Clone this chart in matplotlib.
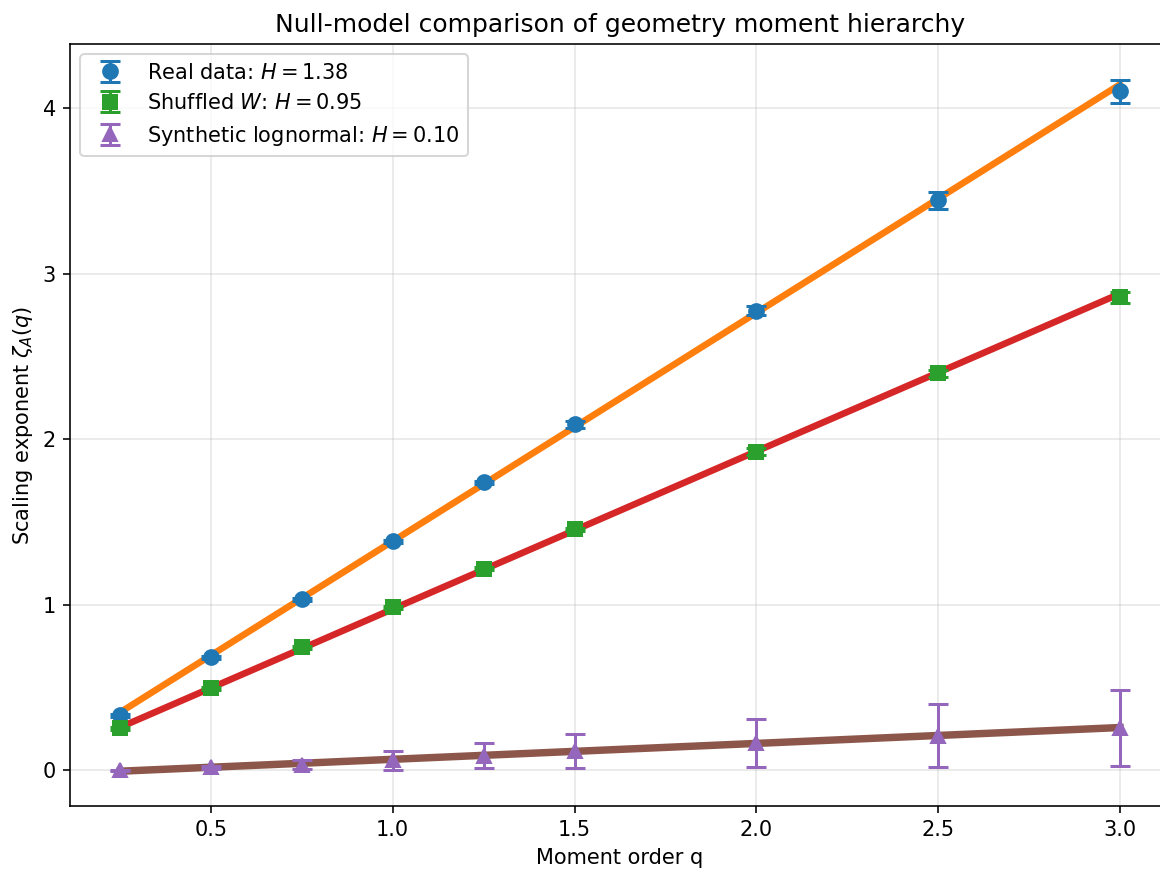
import numpy as np
import matplotlib
matplotlib.use("Agg")
import matplotlib.pyplot as plt

q = [0.25, 0.5, 0.75, 1.0, 1.25, 1.5, 2.0, 2.5, 3.0]

# real data
zeta_real = [0.332, 0.683, 1.033, 1.384, 1.740, 2.091, 2.779, 3.444, 4.103]
err_real = [0.01, 0.01, 0.01, 0.01, 0.01, 0.02, 0.03, 0.05, 0.07]
fit_real = [0.350, 0.695, 1.040, 1.385, 1.730, 2.075, 2.765, 3.455, 4.145]

# shuffled W
zeta_shuf = [0.254, 0.495, 0.743, 0.985, 1.220, 1.456, 1.927, 2.399, 2.858]
err_shuf = [0.01, 0.01, 0.01, 0.01, 0.01, 0.01, 0.02, 0.02, 0.035]
fit_shuf = [0.260, 0.498, 0.736, 0.975, 1.213, 1.451, 1.928, 2.404, 2.881]

# synthetic lognormal
zeta_syn = [0.000, 0.018, 0.035, 0.060, 0.088, 0.117, 0.165, 0.210, 0.255]
err_syn = [0.005, 0.01, 0.025, 0.055, 0.075, 0.100, 0.145, 0.190, 0.230]
fit_syn = [-0.005, 0.019, 0.043, 0.067, 0.091, 0.115, 0.163, 0.211, 0.259]

labels = [r"Real data: $H = 1.38$",
          r"Shuffled $W$: $H = 0.95$",
          r"Synthetic lognormal: $H = 0.10$"]

plt.rcParams["font.size"] = 10.4

fig = plt.figure(figsize=(8, 6), dpi=145)
ax = fig.add_axes([0.0603, 0.0736, 0.9483, 0.8759])

ax.plot(q, fit_real, color="C1", lw=3.3, zorder=2)
ax.plot(q, fit_shuf, color="C3", lw=3.3, zorder=2)
ax.plot(q, fit_syn, color="C5", lw=3.7, zorder=2)

ax.errorbar(q, zeta_real, yerr=err_real, fmt="o", color="C0", ms=7.3,
            capsize=5, elinewidth=1.5, capthick=1.5, label=labels[0], zorder=3)
ax.errorbar(q, zeta_shuf, yerr=err_shuf, fmt="s", color="C2", ms=7.3,
            capsize=5, elinewidth=1.5, capthick=1.5, label=labels[1], zorder=3)
ax.errorbar(q, zeta_syn, yerr=err_syn, fmt="^", color="C4", ms=7.3,
            capsize=5, elinewidth=1.5, capthick=1.5, label=labels[2], zorder=3)

ax.set_xlim(0.1125, 3.1375)
ax.set_ylim(-0.215, 4.39)
ax.set_xlabel("Moment order q")
ax.set_ylabel(r"Scaling exponent $\zeta_A(q)$")
ax.set_title("Null-model comparison of geometry moment hierarchy", fontsize=12.4)
ax.grid(True, alpha=0.3)
ax.legend(loc="upper left")

fig.savefig("out.png", dpi=145)
